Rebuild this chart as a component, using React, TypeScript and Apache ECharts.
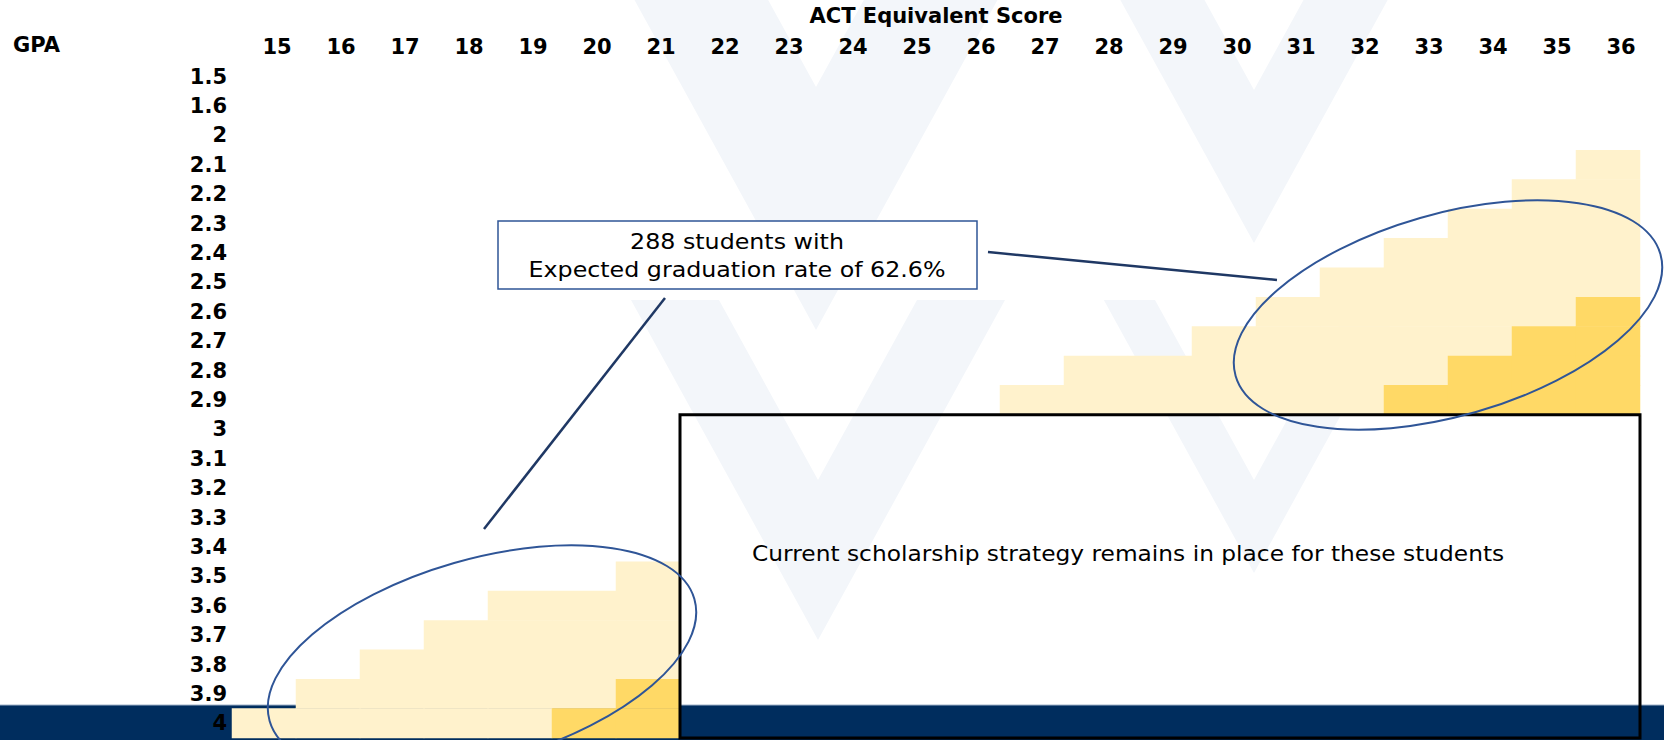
import { useEffect, useRef } from 'react';
import * as echarts from 'echarts';

// ---- data ----
const actScores = ['15','16','17','18','19','20','21','22','23','24','25','26','27','28','29','30','31','32','33','34','35','36'];
const gpaLevels = ['1.5','1.6','2','2.1','2.2','2.3','2.4','2.5','2.6','2.7','2.8','2.9','3','3.1','3.2','3.3','3.4','3.5','3.6','3.7','3.8','3.9','4'];

// lower-left group: ACT 15-21, shaded from the given GPA down to GPA 4
const lowerActs = ['15','16','17','18','19','20','21'];
const lowerLightFrom = ['4','3.9','3.8','3.7','3.6','3.6','3.5'];
const lowerDarkFrom: (string | null)[] = [null, null, null, null, null, '4', '3.9'];
const lowerThrough = '4';

// upper-right group: ACT 27-36, shaded from the given GPA down to GPA 2.9
const upperActs = ['27','28','29','30','31','32','33','34','35','36'];
const upperLightFrom = ['2.9','2.8','2.8','2.7','2.6','2.5','2.4','2.3','2.2','2.1'];
const upperDarkFrom: (string | null)[] = [null, null, null, null, null, null, '2.9', '2.8', '2.7', '2.6'];
const upperThrough = '2.9';

// region where current strategy remains
const boxActRange = ['22', '36'];
const boxGpaRange = ['3', '4'];

const calloutLines = ['288 students with', 'Expected graduation rate of 62.6%'];
const boxNote = 'Current scholarship strategy remains in place for these students';
const xTitle = 'ACT Equivalent Score';
const yTitle = 'GPA';

const LIGHT = '#FFF2CC';
const DARK = '#FFD966';
const FONT = 'DejaVu Sans';

function buildCells() {
  const cells: [string, string, number][] = [];
  const addGroup = (acts: string[], lightFrom: string[], darkFrom: (string | null)[], through: string) => {
    const end = gpaLevels.indexOf(through);
    acts.forEach((a, i) => {
      const s = gpaLevels.indexOf(lightFrom[i]);
      const dk = darkFrom[i];
      const d = dk == null ? Infinity : gpaLevels.indexOf(dk);
      for (let r = s; r <= end; r++) cells.push([a, gpaLevels[r], r >= d ? 2 : 1]);
    });
  };
  addGroup(lowerActs, lowerLightFrom, lowerDarkFrom, lowerThrough);
  addGroup(upperActs, upperLightFrom, upperDarkFrom, upperThrough);
  return cells;
}

function chevron(x0: number, yInner: number, yOuter: number, yTop: number, s: number) {
  return [
    [x0 - s * (yOuter - yTop), yTop],
    [x0, yOuter],
    [x0 + s * (yOuter - yTop), yTop],
    [x0 + s * (yInner - yTop), yTop],
    [x0, yInner],
    [x0 - s * (yInner - yTop), yTop],
  ];
}

export default function App() {
  const ref = useRef<HTMLDivElement>(null);

  useEffect(() => {
    if (!ref.current) return;
    const chart = echarts.init(ref.current, null, { renderer: 'svg' });
    const W = 1664;
    const H = 740;
    const grid = { left: 232, right: 24, top: 60, bottom: 2 };
    const labelStyle = { fontFamily: FONT, fontWeight: 'bold' as const, fontSize: 21, color: '#000' };

    chart.setOption({
      animation: false,
      backgroundColor: '#ffffff',
      grid: { ...grid, containLabel: false },
      xAxis: {
        type: 'category',
        data: actScores,
        position: 'top',
        z: 5,
        axisLine: { show: false },
        axisTick: { show: false },
        splitLine: { show: false },
        axisLabel: { ...labelStyle, interval: 0, margin: 5, padding: [0, 0, 0, 26] },
        name: xTitle,
        nameLocation: 'middle',
        nameGap: 36,
        nameTextStyle: { ...labelStyle },
      },
      yAxis: {
        type: 'category',
        data: gpaLevels,
        inverse: true,
        z: 5,
        axisLine: { show: false },
        axisTick: { show: false },
        splitLine: { show: false },
        axisLabel: { ...labelStyle, interval: 0, margin: 5 },
      },
      visualMap: {
        type: 'piecewise',
        show: false,
        dimension: 2,
        seriesIndex: 0,
        pieces: [
          { value: 1, color: LIGHT },
          { value: 2, color: DARK },
        ],
      },
      series: [
        {
          type: 'heatmap',
          data: buildCells(),
          itemStyle: { borderWidth: 0 },
          emphasis: { disabled: true },
          silent: true,
        },
      ],
    });

    const colW = (W - grid.left - grid.right) / actScores.length;
    const rowH = (H - grid.top - grid.bottom) / gpaLevels.length;
    const p0 = chart.convertToPixel({ gridIndex: 0 }, [boxActRange[0], boxGpaRange[0]]) as number[];
    const p1 = chart.convertToPixel({ gridIndex: 0 }, [boxActRange[1], boxGpaRange[1]]) as number[];
    const bx0 = p0[0] - colW / 2;
    const by0 = p0[1] - rowH / 2;
    const bx1 = p1[0] + colW / 2;
    const by1 = Math.min(p1[1] + rowH / 2, H - 1.5);

    const wm = '#F3F6FA';
    const chevrons = [
      chevron(816, 87, 330, -10, 0.55),
      chevron(1254, 90, 243, -10, 0.55),
      chevron(1254, 480, 573, 300, 0.55),
      chevron(818, 480, 640, 300, 0.55),
    ];

    const tilt = (16 * Math.PI) / 180;
    const annColor = '#2F5597';

    chart.setOption({
      graphic: {
        elements: [
          ...chevrons.map((pts) => ({
            type: 'polygon',
            z: 0,
            silent: true,
            shape: { points: pts },
            style: { fill: wm },
          })),
          {
            type: 'rect',
            z: 1,
            silent: true,
            shape: { x: 0, y: 705, width: W, height: H - 705 },
            style: { fill: '#002D5E' },
          },
          {
            type: 'line',
            z: 1,
            silent: true,
            shape: { x1: 0, y1: 705, x2: W, y2: 705 },
            style: { stroke: '#9FB2C8', lineWidth: 1 },
          },
          {
            type: 'text',
            z: 5,
            silent: true,
            x: 13,
            y: 45,
            style: {
              text: yTitle,
              fontFamily: FONT,
              fontWeight: 'bold',
              fontSize: 21,
              fill: '#000',
              align: 'left',
              verticalAlign: 'middle',
              textAlign: 'left',
              textVerticalAlign: 'middle',
            },
          },
          {
            type: 'rect',
            z: 10,
            silent: true,
            shape: { x: bx0, y: by0, width: bx1 - bx0, height: by1 - by0 },
            style: { fill: 'none', stroke: '#000', lineWidth: 3 },
          },
          {
            type: 'text',
            z: 11,
            silent: true,
            x: bx0 + 72,
            y: 553,
            scaleX: 1.06,
            style: {
              text: boxNote,
              fontFamily: FONT,
              fontSize: 22,
              fill: '#000',
              align: 'left',
              verticalAlign: 'middle',
              textAlign: 'left',
              textVerticalAlign: 'middle',
            },
          },
          {
            type: 'ellipse',
            z: 10,
            silent: true,
            x: 1448,
            y: 315,
            rotation: tilt,
            shape: { cx: 0, cy: 0, rx: 221, ry: 101 },
            style: { fill: 'none', stroke: annColor, lineWidth: 2 },
          },
          {
            type: 'ellipse',
            z: 10,
            silent: true,
            x: 482,
            y: 660,
            rotation: tilt,
            shape: { cx: 0, cy: 0, rx: 221, ry: 101 },
            style: { fill: 'none', stroke: annColor, lineWidth: 2 },
          },
          {
            type: 'line',
            z: 10,
            silent: true,
            shape: { x1: 665, y1: 298, x2: 484, y2: 529 },
            style: { stroke: '#1F3864', lineWidth: 2.5 },
          },
          {
            type: 'line',
            z: 10,
            silent: true,
            shape: { x1: 988, y1: 252, x2: 1277, y2: 280 },
            style: { stroke: '#1F3864', lineWidth: 2.5 },
          },
          {
            type: 'rect',
            z: 10,
            silent: true,
            shape: { x: 498, y: 221, width: 479, height: 68 },
            style: { fill: '#ffffff', stroke: annColor, lineWidth: 1.5 },
          },
          ...calloutLines.map((t, i) => ({
            type: 'text',
            z: 11,
            silent: true,
            x: 737,
            y: 241 + i * 28,
            scaleX: 1.08,
            style: {
              text: t,
              fontFamily: FONT,
              fontSize: 22,
              fill: '#000',
              align: 'center',
              verticalAlign: 'middle',
              textAlign: 'center',
              textVerticalAlign: 'middle',
            },
          })),
        ],
      },
    });

    return () => chart.dispose();
  }, []);

  return (
    <div
      ref={ref}
      style={{ position: 'fixed', left: 0, top: 0, width: 1664, height: 740, background: '#fff' }}
    />
  );
}
